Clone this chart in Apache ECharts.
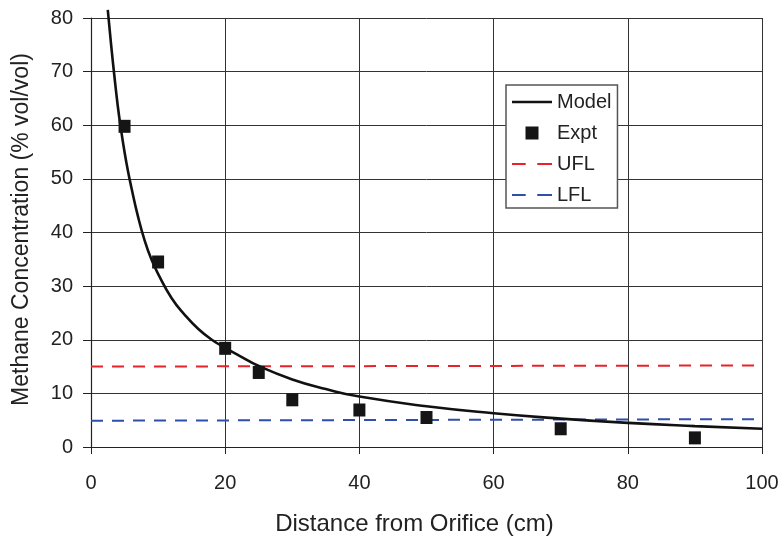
<!DOCTYPE html>
<html>
<head>
<meta charset="utf-8">
<script src="https://cdn.jsdelivr.net/npm/echarts@6/dist/echarts.min.js"></script>
<style>
  html, body { margin: 0; padding: 0; background: #fff; }
  #chart { width: 780px; height: 537px; }
</style>
</head>
<body>
<div id="chart"></div>
<script>
// model curve
const modelX = [2.5, 3.0, 3.5, 4.0, 4.5, 5.0, 5.5, 6.0, 7.0, 8.0, 9.0, 10, 12, 14, 16, 18, 20, 22, 25, 30, 35, 40, 50, 60, 70, 80, 90, 100]
const modelY = [81.5, 75, 69, 63.5, 59, 55, 51.5, 48.5, 43, 38.5, 35, 32.3, 27.8, 24.6, 22, 20, 18.5, 17.1, 15.1, 12.6, 10.8, 9.4, 7.6, 6.3, 5.3, 4.5, 3.9, 3.4]

// experimental points
const exptX = [5, 10, 20, 25, 30, 40, 50, 70, 90]
const exptY = [59.8, 34.5, 18.4, 13.9, 8.8, 6.9, 5.5, 3.4, 1.7]

// flammability limits
const limitX = [0, 100]
const uflY = [15, 15.2]
const lflY = [4.9, 5.2]

const pairs = (xs, ys) => xs.map((x, i) => [x, ys[i]])

const chart = echarts.init(document.getElementById('chart'))
const font = 'Liberation Sans, Arial, sans-serif'
const ink = '#222'

// legend glyphs
const solidIcon = 'path://M0,0 H40 V2.6 H0 Z'
const dashIcon = 'path://M0,0 H13 V2 H0 Z M24,0 H38 V2 H24 Z'
const squareIcon = 'path://M0,0 H10 V10 H0 Z'

chart.setOption({
  animation: false,
  textStyle: { fontFamily: font },
  grid: { left: 91, right: 18, top: 18, bottom: 90, outerBoundsMode: 'none', containLabel: false },
  legend: {
    orient: 'vertical',
    left: 506,
    top: 85,
    padding: [7, 6, 3, 6],
    itemGap: 11,
    itemWidth: 40,
    itemHeight: 13,
    itemTextGap: 5,
    symbolKeepAspect: true,
    borderColor: '#555',
    borderWidth: 1.5,
    backgroundColor: '#fff',
    textStyle: { fontSize: 20, color: ink, fontFamily: font },
    data: [
      { name: 'Model', icon: solidIcon },
      { name: 'Expt', icon: squareIcon },
      { name: 'UFL', icon: dashIcon },
      { name: 'LFL', icon: dashIcon }
    ]
  },
  xAxis: {
    type: 'value',
    min: 0,
    max: 100,
    interval: 20,
    name: 'Distance from Orifice (cm)',
    nameLocation: 'middle',
    nameGap: 65,
    nameTextStyle: { fontSize: 24, color: ink, fontFamily: font, padding: [0, 24, 0, 0] },
    axisLine: { lineStyle: { color: ink, width: 1.2 } },
    axisTick: { show: true, length: 7, lineStyle: { color: ink } },
    axisLabel: { fontSize: 20, color: ink, margin: 26 },
    splitLine: { show: true, lineStyle: { color: '#333', width: 1 } }
  },
  yAxis: {
    type: 'value',
    min: 0,
    max: 80,
    interval: 10,
    name: 'Methane Concentration (% vol/vol)',
    nameLocation: 'middle',
    nameGap: 58,
    nameTextStyle: { fontSize: 23, color: ink, fontFamily: font, padding: [0, 0, 0, 6] },
    axisLine: { show: true, lineStyle: { color: ink, width: 1.2 } },
    axisTick: { show: true, length: 8, lineStyle: { color: ink } },
    axisLabel: { fontSize: 20, color: ink, margin: 18 },
    splitLine: { show: true, lineStyle: { color: '#333', width: 1 } }
  },
  series: [
    {
      name: 'Model',
      type: 'line',
      data: pairs(modelX, modelY),
      smooth: 0.5,
      symbol: 'none',
      clip: false,
      lineStyle: { color: '#111', width: 2.6 },
      itemStyle: { color: '#111' },
      z: 4
    },
    {
      name: 'Expt',
      type: 'scatter',
      data: pairs(exptX, exptY),
      symbol: 'rect',
      symbolSize: [12, 13],
      itemStyle: { color: '#151515', opacity: 1 },
      z: 5
    },
    {
      name: 'UFL',
      type: 'line',
      data: pairs(limitX, uflY),
      symbol: 'none',
      lineStyle: { color: '#e8222a', width: 2, type: [12, 9] },
      itemStyle: { color: '#e8222a' },
      z: 3
    },
    {
      name: 'LFL',
      type: 'line',
      data: pairs(limitX, lflY),
      symbol: 'none',
      lineStyle: { color: '#2f4fa8', width: 2, type: [12, 9] },
      itemStyle: { color: '#2f4fa8' },
      z: 3
    }
  ]
})
</script>
</body>
</html>
